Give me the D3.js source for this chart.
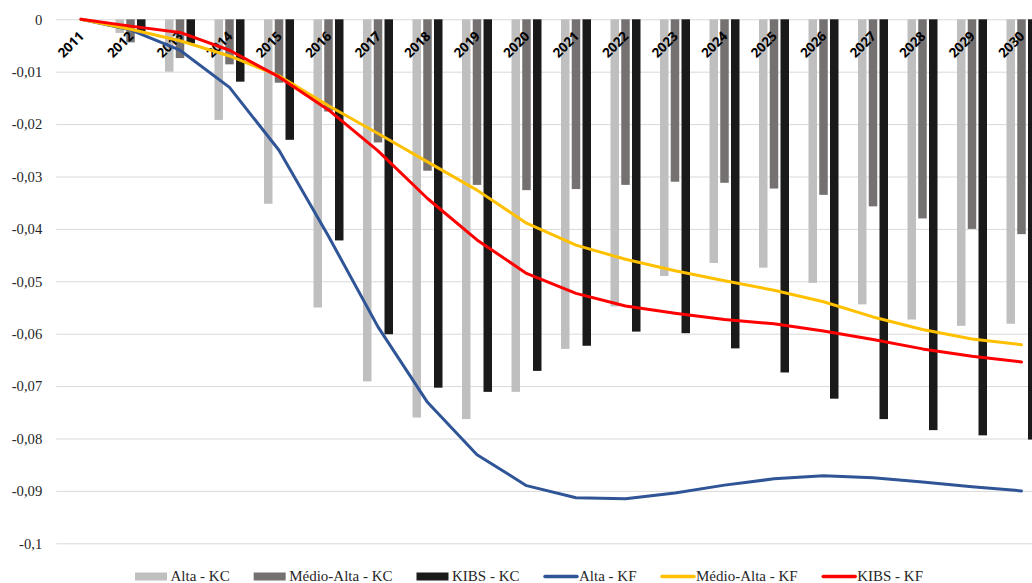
<!DOCTYPE html>
<html>
<head>
<meta charset="utf-8">
<script src="https://cdn.jsdelivr.net/npm/d3@7"></script>
<style>
  html, body { margin: 0; padding: 0; background: #fff; }
  svg { display: block; }
</style>
</head>
<body>
<svg id="chart" width="1032" height="583"></svg>
<script>
// Years on the category axis
const years = ["2011","2012","2013","2014","2015","2016","2017","2018","2019","2020",
               "2021","2022","2023","2024","2025","2026","2027","2028","2029","2030"];

// Bar series (KC)
const altaKC       = [0, -0.0026, -0.0100, -0.0192, -0.0352, -0.0550, -0.0691, -0.0760, -0.0763, -0.0711,
                      -0.0629, -0.0548, -0.0490, -0.0465, -0.0474, -0.0503, -0.0544, -0.0573, -0.0585, -0.0581];
const medioAltaKC  = [0, -0.0044, -0.0074, -0.0086, -0.0121, -0.0176, -0.0235, -0.0289, -0.0316, -0.0326,
                      -0.0324, -0.0316, -0.0310, -0.0312, -0.0323, -0.0335, -0.0357, -0.0380, -0.0400, -0.0410];
const kibsKC       = [0, -0.0024, -0.0046, -0.0119, -0.0230, -0.0422, -0.0601, -0.0703, -0.0711, -0.0671,
                      -0.0623, -0.0596, -0.0599, -0.0628, -0.0674, -0.0724, -0.0763, -0.0784, -0.0794, -0.0802];

// Line series (KF)
const altaKF       = [0, -0.0020, -0.0059, -0.0130, -0.0250, -0.0414, -0.0587, -0.0731, -0.0831, -0.0890,
                      -0.0913, -0.0915, -0.0904, -0.0889, -0.0877, -0.0871, -0.0875, -0.0883, -0.0892, -0.0900];
const medioAltaKF  = [0, -0.0019, -0.0041, -0.0070, -0.0108, -0.0165, -0.0218, -0.0272, -0.0326, -0.0389,
                      -0.0431, -0.0458, -0.0480, -0.0499, -0.0517, -0.0539, -0.0568, -0.0592, -0.0610, -0.0621];
const kibsKF       = [0, -0.0013, -0.0025, -0.0059, -0.0110, -0.0173, -0.0251, -0.0342, -0.0421, -0.0485,
                      -0.0523, -0.0547, -0.0561, -0.0573, -0.0581, -0.0595, -0.0611, -0.0629, -0.0643, -0.0654];

// Y-axis ticks
const yTicks = [0, -0.01, -0.02, -0.03, -0.04, -0.05, -0.06, -0.07, -0.08, -0.09, -0.1];

const barSeries = [
  { name: "Alta - KC",       values: altaKC,      color: "#BFBFBF" },
  { name: "Médio-Alta - KC", values: medioAltaKC, color: "#767171" },
  { name: "KIBS - KC",       values: kibsKC,      color: "#1A1A1A" }
];
const lineSeries = [
  { name: "Alta - KF",       values: altaKF,      color: "#2F5597" },
  { name: "Médio-Alta - KF", values: medioAltaKF, color: "#FFC000" },
  { name: "KIBS - KF",       values: kibsKF,      color: "#FF0000" }
];

const W = 1032, H = 583;
const plot = { left: 56.25, right: 1046.25, top: 19.3, bottom: 543.3 };
const SERIF = '"Liberation Serif", "Times New Roman", serif';

const svg = d3.select("#chart");

const x = d3.scaleBand().domain(years).range([plot.left, plot.right]).padding(0);
const xSub = d3.scaleBand().domain(d3.range(barSeries.length)).range([-15, 15]).paddingInner(0.2093).paddingOuter(0);
const y = d3.scaleLinear().domain([-0.1, 0]).range([plot.bottom, plot.top]);
const cx = d => x(d) + x.bandwidth() / 2;

const ptLocale = d3.formatLocale({ decimal: ",", thousands: ".", grouping: [3], currency: ["", ""], minus: "-" });
const fmt = ptLocale.format(".2~f");

// Gridlines
svg.append("g")
  .attr("transform", `translate(${plot.left},0)`)
  .call(d3.axisLeft(y).tickValues(yTicks).tickSize(-(W - plot.left)).tickFormat(""))
  .call(g => g.select(".domain").remove())
  .call(g => g.selectAll(".tick line").attr("stroke", "#D9D9D9").attr("stroke-width", 1));

// Y-axis labels
svg.append("g")
  .attr("transform", `translate(${plot.left},0)`)
  .call(d3.axisLeft(y).tickValues(yTicks).tickSize(0).tickPadding(14).tickFormat(d => d === 0 ? "0" : fmt(d)))
  .attr("font-family", null)
  .attr("font-size", null)
  .call(g => g.select(".domain").remove())
  .call(g => g.selectAll("text")
    .style("font-family", SERIF)
    .style("font-size", "14.67px")
    .style("fill", "#262626"));

// Clustered bars
const barsG = svg.append("g");
barSeries.forEach((s, k) => {
  barsG.append("g").selectAll("rect")
    .data(years.map((yr, i) => ({ yr, v: s.values[i] })))
    .join("rect")
    .attr("x", d => cx(d.yr) + xSub(k))
    .attr("width", xSub.bandwidth())
    .attr("y", y(0))
    .attr("height", d => y(d.v) - y(0))
    .attr("fill", s.color);
});

// Category labels, rotated
svg.append("g").selectAll("text")
  .data(years)
  .join("text")
  .attr("transform", d => `translate(${cx(d) + 4},37) rotate(-45)`)
  .attr("text-anchor", "end")
  .style("font-family", '"Open Sans", sans-serif')
  .style("font-weight", "700")
  .style("font-size", "13.3px")
  .style("fill", "#000")
  .text(d => d);

// Lines
const line = d3.line().x(d => cx(d.yr)).y(d => y(d.v));
lineSeries.forEach(s => {
  svg.append("path")
    .datum(years.map((yr, i) => ({ yr, v: s.values[i] })))
    .attr("d", line)
    .attr("fill", "none")
    .attr("stroke", s.color)
    .attr("stroke-width", 3)
    .attr("stroke-linejoin", "round")
    .attr("stroke-linecap", "round");
});

// Legend
const legend = svg.append("g");
const items = [
  ...barSeries.map(s => ({ ...s, type: "bar" })),
  ...lineSeries.map(s => ({ ...s, type: "line" }))
];
let lx = 135;
items.forEach(it => {
  const g = legend.append("g");
  if (it.type === "bar") {
    g.append("rect").attr("x", lx).attr("y", 572.5).attr("width", 32).attr("height", 8).attr("fill", it.color);
  } else {
    g.append("line").attr("x1", lx + 1.5).attr("x2", lx + 33.5).attr("y1", 576.5).attr("y2", 576.5)
      .attr("stroke", it.color).attr("stroke-width", 3.5).attr("stroke-linecap", "round");
  }
  const t = g.append("text")
    .attr("x", lx + 35.5)
    .attr("y", 581)
    .style("font-family", SERIF)
    .style("font-size", "15px")
    .style("fill", "#262626")
    .text(it.name);
  lx = lx + 35.5 + t.node().getComputedTextLength() + 24;
});
</script>
</body>
</html>
